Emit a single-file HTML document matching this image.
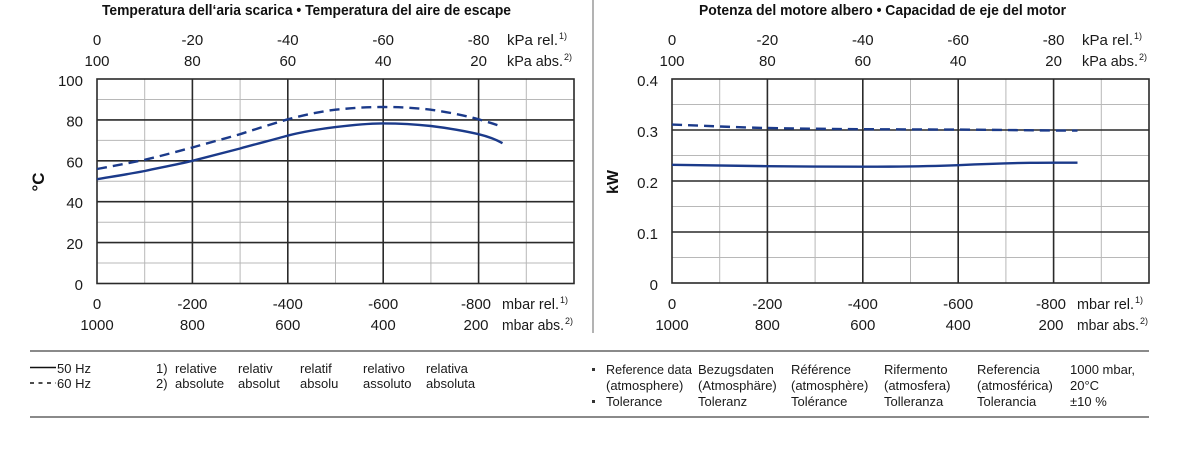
<!DOCTYPE html>
<html><head><meta charset="utf-8">
<style>
html,body{margin:0;padding:0;background:#fff;}
svg{display:block;font-family:"Liberation Sans",Arial,sans-serif;}
.t{font-size:15px;fill:#1a1a1a;}
.l{font-size:13px;fill:#1a1a1a;}
.mj{stroke:#2a2a2a;stroke-width:1.6;}
.mn{stroke:#b8b8b8;stroke-width:1;}
.c{fill:none;stroke:#1b3a8a;stroke-width:2.4;stroke-linejoin:round;stroke-linecap:butt;}
.d{stroke-dasharray:10,6;}
</style></head><body>
<svg width="1200" height="455" viewBox="0 0 1200 455" xmlns="http://www.w3.org/2000/svg">
<!-- divider -->
<line x1="593" y1="0" x2="593" y2="333" stroke="#9a9a9a" stroke-width="1.5"/>

<!-- ============ LEFT CHART ============ -->
<text x="102" y="15" font-size="15" font-weight="bold" fill="#111" textLength="409" lengthAdjust="spacingAndGlyphs">Temperatura dell‘aria scarica  •  Temperatura del aire de escape</text>
<!-- minor grid -->
<g class="mn">
<line x1="144.7" y1="79" x2="144.7" y2="283.5"/><line x1="240.1" y1="79" x2="240.1" y2="283.5"/><line x1="335.5" y1="79" x2="335.5" y2="283.5"/><line x1="430.9" y1="79" x2="430.9" y2="283.5"/><line x1="526.3" y1="79" x2="526.3" y2="283.5"/>
<line x1="97" y1="263" x2="574" y2="263"/><line x1="97" y1="222.2" x2="574" y2="222.2"/><line x1="97" y1="181.3" x2="574" y2="181.3"/><line x1="97" y1="140.4" x2="574" y2="140.4"/><line x1="97" y1="99.5" x2="574" y2="99.5"/>
</g>
<g class="mj">
<line x1="192.4" y1="79" x2="192.4" y2="283.5"/><line x1="287.8" y1="79" x2="287.8" y2="283.5"/><line x1="383.2" y1="79" x2="383.2" y2="283.5"/><line x1="478.6" y1="79" x2="478.6" y2="283.5"/>
<line x1="97" y1="242.6" x2="574" y2="242.6"/><line x1="97" y1="201.7" x2="574" y2="201.7"/><line x1="97" y1="160.8" x2="574" y2="160.8"/><line x1="97" y1="119.9" x2="574" y2="119.9"/>
<rect x="97" y="79" width="477" height="204.5" fill="none"/>
</g>
<!-- curves -->
<path class="c" d="M97,179.2 C113,176.5 129,174 144.7,171 C161,167.5 177,164.5 192.4,160.8 C208,156.8 224,152.8 240.1,148.5 C256,144 272,140 287.8,135.6 C304,131.5 320,129 335.5,127.1 C352,125 367,123.4 383.2,123.4 C399,123.4 415,124.2 430.9,126 C447,128 463,130.5 478.6,134.2 C488,136.5 496,139.5 502.5,143.2"/>
<path class="c d" d="M97,169 C113,166 129,163 144.7,159.8 C161,156 177,151.5 192.4,147.5 C208,143 224,138.8 240.1,134.2 C256,129 272,124 287.8,119.3 C304,115 320,111.5 335.5,109.7 C352,108 367,107 383.2,107 C399,107 415,107.8 430.9,109.7 C447,112 463,115 478.6,119.3 C488,122 496,124.5 502.5,127"/>
<!-- y labels -->
<g class="t" text-anchor="end">
<text x="83" y="86">100</text><text x="83" y="126.5">80</text><text x="83" y="167.3">60</text><text x="83" y="208.2">40</text><text x="83" y="249.1">20</text><text x="83" y="290">0</text>
</g>
<text transform="translate(44,182) rotate(-90)" text-anchor="middle" font-size="17" font-weight="bold" fill="#111">°C</text>
<!-- top labels -->
<g class="t" text-anchor="middle">
<text x="97" y="45">0</text><text x="192.4" y="45">-20</text><text x="287.8" y="45">-40</text><text x="383.2" y="45">-60</text><text x="478.6" y="45">-80</text>
<text x="97" y="66">100</text><text x="192.4" y="66">80</text><text x="287.8" y="66">60</text><text x="383.2" y="66">40</text><text x="478.6" y="66">20</text>
<text x="97" y="309">0</text><text x="192.4" y="309">-200</text><text x="287.8" y="309">-400</text><text x="383.2" y="309">-600</text><text x="476" y="309">-800</text>
<text x="97" y="330">1000</text><text x="192.4" y="330">800</text><text x="287.8" y="330">600</text><text x="383.2" y="330">400</text><text x="476" y="330">200</text>
</g>
<g class="t">
<text x="507" y="45" textLength="51" lengthAdjust="spacingAndGlyphs">kPa rel.</text><text x="559" y="39" font-size="9">1)</text>
<text x="507" y="66" textLength="56" lengthAdjust="spacingAndGlyphs">kPa abs.</text><text x="564" y="60" font-size="9">2)</text>
<text x="502" y="309" textLength="57" lengthAdjust="spacingAndGlyphs">mbar rel.</text><text x="560" y="303" font-size="9">1)</text>
<text x="502" y="330" textLength="62" lengthAdjust="spacingAndGlyphs">mbar abs.</text><text x="565" y="324" font-size="9">2)</text>
</g>

<!-- ============ RIGHT CHART ============ -->
<text x="699" y="15" font-size="15" font-weight="bold" fill="#111" textLength="367" lengthAdjust="spacingAndGlyphs">Potenza del motore albero  •  Capacidad de eje del motor</text>
<g class="mn">
<line x1="719.7" y1="79" x2="719.7" y2="283"/><line x1="815.1" y1="79" x2="815.1" y2="283"/><line x1="910.5" y1="79" x2="910.5" y2="283"/><line x1="1005.9" y1="79" x2="1005.9" y2="283"/><line x1="1101.3" y1="79" x2="1101.3" y2="283"/>
<line x1="672" y1="257.5" x2="1149" y2="257.5"/><line x1="672" y1="206.5" x2="1149" y2="206.5"/><line x1="672" y1="155.5" x2="1149" y2="155.5"/><line x1="672" y1="104.5" x2="1149" y2="104.5"/>
</g>
<g class="mj">
<line x1="767.4" y1="79" x2="767.4" y2="283"/><line x1="862.8" y1="79" x2="862.8" y2="283"/><line x1="958.2" y1="79" x2="958.2" y2="283"/><line x1="1053.6" y1="79" x2="1053.6" y2="283"/>
<line x1="672" y1="232" x2="1149" y2="232"/><line x1="672" y1="181" x2="1149" y2="181"/><line x1="672" y1="130" x2="1149" y2="130"/>
<rect x="672" y="79" width="477" height="204" fill="none"/>
</g>
<path class="c d" d="M672,124.6 C710,126 740,127.5 767.4,128 C800,128.6 830,129 862.8,129.2 C900,129.4 930,129.5 958.2,129.6 C990,129.8 1020,130.2 1053.6,130.5 C1062,130.6 1070,130.6 1077.5,130.6"/>
<path class="c" d="M672,164.8 C710,165.4 740,166 767.4,166.2 C800,166.5 830,166.7 862.8,166.7 C900,166.7 930,166.4 958.2,165.2 C980,164.2 1000,163.3 1030,162.8 C1045,162.6 1060,162.6 1077.5,162.7"/>
<g class="t" text-anchor="end">
<text x="658" y="86">0.4</text><text x="658" y="137">0.3</text><text x="658" y="188">0.2</text><text x="658" y="239">0.1</text><text x="658" y="290">0</text>
</g>
<text transform="translate(618,182) rotate(-90)" text-anchor="middle" font-size="16" font-weight="bold" fill="#111">kW</text>
<g class="t" text-anchor="middle">
<text x="672" y="45">0</text><text x="767.4" y="45">-20</text><text x="862.8" y="45">-40</text><text x="958.2" y="45">-60</text><text x="1053.6" y="45">-80</text>
<text x="672" y="66">100</text><text x="767.4" y="66">80</text><text x="862.8" y="66">60</text><text x="958.2" y="66">40</text><text x="1053.6" y="66">20</text>
<text x="672" y="309">0</text><text x="767.4" y="309">-200</text><text x="862.8" y="309">-400</text><text x="958.2" y="309">-600</text><text x="1051" y="309">-800</text>
<text x="672" y="330">1000</text><text x="767.4" y="330">800</text><text x="862.8" y="330">600</text><text x="958.2" y="330">400</text><text x="1051" y="330">200</text>
</g>
<g class="t">
<text x="1082" y="45" textLength="51" lengthAdjust="spacingAndGlyphs">kPa rel.</text><text x="1134" y="39" font-size="9">1)</text>
<text x="1082" y="66" textLength="56" lengthAdjust="spacingAndGlyphs">kPa abs.</text><text x="1139" y="60" font-size="9">2)</text>
<text x="1077" y="309" textLength="57" lengthAdjust="spacingAndGlyphs">mbar rel.</text><text x="1135" y="303" font-size="9">1)</text>
<text x="1077" y="330" textLength="62" lengthAdjust="spacingAndGlyphs">mbar abs.</text><text x="1140" y="324" font-size="9">2)</text>
</g>

<!-- ============ LEGEND ============ -->
<line x1="30" y1="351" x2="1149" y2="351" stroke="#8a8a8a" stroke-width="2"/>
<line x1="30" y1="417" x2="1149" y2="417" stroke="#8a8a8a" stroke-width="2"/>
<line x1="30" y1="367.5" x2="56" y2="367.5" stroke="#111" stroke-width="1.4"/>
<line x1="30" y1="383" x2="56" y2="383" stroke="#111" stroke-width="1.4" stroke-dasharray="4,4.5"/>
<g class="l">
<text x="57" y="373">50 Hz</text>
<text x="57" y="388">60 Hz</text>
<text x="156" y="373">1)</text><text x="175" y="373">relative</text><text x="238" y="373">relativ</text><text x="300" y="373">relatif</text><text x="363" y="373">relativo</text><text x="426" y="373">relativa</text>
<text x="156" y="388">2)</text><text x="175" y="388">absolute</text><text x="238" y="388">absolut</text><text x="300" y="388">absolu</text><text x="363" y="388">assoluto</text><text x="426" y="388">absoluta</text>

<rect x="592" y="368" width="3" height="3" fill="#333"/>
<rect x="592" y="400" width="3" height="3" fill="#333"/>
<text x="606" y="374" textLength="86" lengthAdjust="spacingAndGlyphs">Reference data</text>
<text x="698" y="374">Bezugsdaten</text>
<text x="791" y="374">Référence</text>
<text x="884" y="374">Rifermento</text>
<text x="977" y="374">Referencia</text>
<text x="1070" y="374">1000 mbar,</text>
<text x="606" y="390">(atmosphere)</text>
<text x="698" y="390">(Atmosphäre)</text>
<text x="791" y="390">(atmosphère)</text>
<text x="884" y="390">(atmosfera)</text>
<text x="977" y="390">(atmosférica)</text>
<text x="1070" y="390">20°C</text>
<text x="606" y="406">Tolerance</text>
<text x="698" y="406">Toleranz</text>
<text x="791" y="406">Tolérance</text>
<text x="884" y="406">Tolleranza</text>
<text x="977" y="406">Tolerancia</text>
<text x="1070" y="406">±10 %</text>
</g>
</svg>
</body></html>
